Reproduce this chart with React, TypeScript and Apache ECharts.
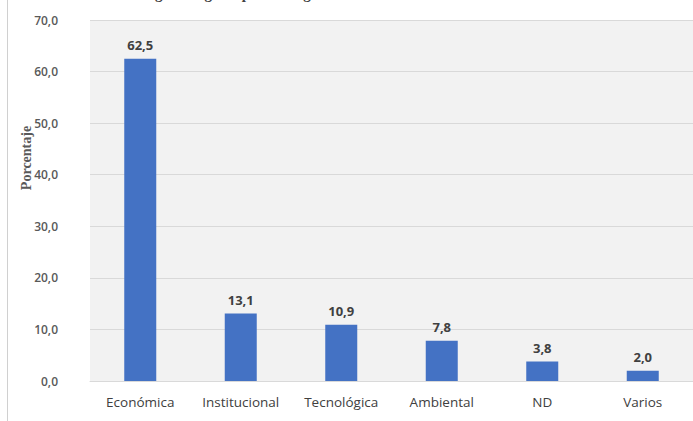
import React, { useEffect, useRef } from "react";
import * as echarts from "echarts";

const categories = ["Económica", "Institucional", "Tecnológica", "Ambiental", "ND", "Varios"];
const values = [62.5, 13.1, 10.9, 7.8, 3.8, 2.0];
const yAxisName = "Porcentaje";
const titleText = "Categoría según tipo de riesgo";

export default function App() {
  const ref = useRef<HTMLDivElement>(null);
  useEffect(() => {
    document.body.style.margin = "0";
    const chart = echarts.init(ref.current!, null, { renderer: "svg" });
    const font = "'Open Sans', 'Noto Sans', sans-serif";
    chart.setOption({
      animation: false,
      backgroundColor: "#ffffff",
      grid: {
        left: 90,
        right: 0,
        top: 20,
        bottom: 40,
        show: true,
        backgroundColor: "#f2f2f2",
        borderWidth: 0,
      },
      graphic: [
        {
          type: "line",
          shape: { x1: 7.5, y1: 0, x2: 7.5, y2: 421 },
          style: { stroke: "#d0d0d0", lineWidth: 1 },
        },
        {
          type: "text",
          x: 125,
          y: -14,
          style: {
            text: titleText,
            font: "bold 15px 'Liberation Serif', serif",
            fill: "#404040",
          },
        },
        {
          type: "text",
          x: 26,
          y: 158,
          rotation: Math.PI / 2,
          style: {
            text: yAxisName,
            font: "bold 14px 'Liberation Serif', serif",
            fill: "#595959",
            align: "center",
            verticalAlign: "middle",
          },
        },
      ],
      xAxis: {
        type: "category",
        data: categories,
        axisLine: { show: true, lineStyle: { color: "#d9d9d9", width: 1 } },
        axisTick: { show: false },
        axisLabel: {
          color: "#404040",
          fontFamily: font,
          fontSize: 13.5,
          margin: 14,
        },
      },
      yAxis: {
        type: "value",
        min: 0,
        max: 70,
        interval: 10,
        axisLine: { show: false },
        axisTick: { show: false },
        splitLine: { lineStyle: { color: "#d9d9d9", width: 1 } },
        axisLabel: {
          color: "#595959",
          fontFamily: font,
          fontSize: 12,
          fontWeight: 600,
          margin: 32,
          formatter: (v: number) => v.toFixed(1).replace(".", ","),
        },
      },
      series: [
        {
          type: "bar",
          data: values,
          barWidth: 32,
          itemStyle: { color: "#4472c4" },
          label: {
            show: true,
            position: "top",
            distance: 7,
            color: "#404040",
            fontFamily: font,
            fontSize: 13,
            fontWeight: "bold",
            formatter: (p: any) => Number(p.value).toFixed(1).replace(".", ","),
          },
        },
      ],
    });
    return () => chart.dispose();
  }, []);
  return <div ref={ref} style={{ width: 693, height: 421 }} />;
}
